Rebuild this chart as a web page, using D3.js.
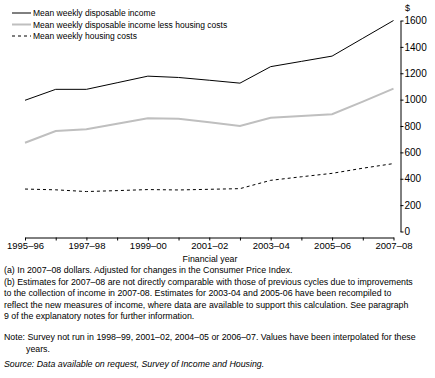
<!DOCTYPE html>
<html>
<head>
<meta charset="utf-8">
<script src="https://cdn.jsdelivr.net/npm/d3@7"></script>
<style>
  body { margin: 0; background: #fff; }
  svg { display: block; font-family: "Liberation Sans", Arial, sans-serif; }
</style>
</head>
<body>
<svg id="chart" width="435" height="378"></svg>
<script>
// financial years on the x axis
const years = ["1995–96", "1996–97", "1997–98", "1998–99", "1999–00", "2000–01", "2001–02",
  "2002–03", "2003–04", "2004–05", "2005–06", "2006–07", "2007–08"];
const labelledYears = ["1995–96", "1997–98", "1999–00", "2001–02", "2003–04", "2005–06", "2007–08"];
const yTicks = [0, 200, 400, 600, 800, 1000, 1200, 1400, 1600];

const disposable = [995, 1078, 1078, 1128, 1178, 1168, 1147, 1125, 1250, 1290, 1330, 1465, 1600];
const lessHousing = [673, 762, 775, 817, 858, 855, 828, 800, 863, 876, 889, 985, 1083];
const housing = [322, 316, 303, 310, 318, 315, 320, 325, 388, 415, 441, 480, 515];

const series = [
  { name: "Mean weekly disposable income", values: disposable, color: "#000", width: 1, dash: null },
  { name: "Mean weekly disposable income less housing costs", values: lessHousing, color: "#bfbfbf", width: 2, dash: null },
  { name: "Mean weekly housing costs", values: housing, color: "#000", width: 1, dash: "3,3" }
];

const notes = [
  "(a) In 2007–08 dollars. Adjusted for changes in the Consumer Price Index.",
  "(b) Estimates for 2007–08 are not directly comparable with those of previous cycles due to improvements",
  "to the collection of income in 2007-08. Estimates for 2003-04 and 2005-06 have been recompiled to",
  "reflect the new measures of income, where data are available to support this calculation. See paragraph",
  "9 of the explanatory notes for further information."
];

const svg = d3.select("#chart");

const x = d3.scalePoint().domain(years).range([25, 393.5]);
const y = d3.scaleLinear().domain([0, 1600]).range([231.5, 20.5]);

// lines
const line = d3.line()
  .x((d, i) => x(years[i]))
  .y(d => y(d));

series.forEach(s => {
  svg.append("path")
    .datum(s.values)
    .attr("fill", "none")
    .attr("stroke", s.color)
    .attr("stroke-width", s.width)
    .attr("stroke-dasharray", s.dash)
    .attr("d", line);
});

// x axis
const xAxis = svg.append("g")
  .attr("transform", "translate(0,237.5)")
  .call(d3.axisBottom(x)
    .tickSize(3)
    .tickSizeOuter(0)
    .tickPadding(2)
    .tickFormat(d => labelledYears.includes(d) ? d : ""));
xAxis.selectAll("text").style("font-size", "9.5px").attr("fill", "#000");
xAxis.selectAll("line, path").attr("stroke", "#000");

svg.append("text")
  .attr("x", 210)
  .attr("y", 262)
  .attr("text-anchor", "middle")
  .style("font-size", "8.8px")
  .text("Financial year");

// y axis on the right
const yAxis = svg.append("g")
  .attr("transform", "translate(400.5,0)")
  .call(d3.axisRight(y)
    .tickValues(yTicks)
    .tickSize(3)
    .tickSizeOuter(0)
    .tickPadding(1)
    .tickFormat(d3.format("d")));
yAxis.selectAll("text").style("font-size", "10px").attr("fill", "#000");
yAxis.selectAll("line, path").attr("stroke", "#000");

svg.append("text")
  .attr("x", 405)
  .attr("y", 11)
  .style("font-size", "9px")
  .text("$");

// legend
const legend = svg.append("g");
series.forEach((s, i) => {
  const ly = 13 + i * 11.5;
  legend.append("line")
    .attr("x1", 12).attr("x2", 31)
    .attr("y1", ly).attr("y2", ly)
    .attr("stroke", s.color)
    .attr("stroke-width", s.width)
    .attr("stroke-dasharray", s.dash);
  legend.append("text")
    .attr("x", 33)
    .attr("y", ly + 3)
    .style("font-size", "8.5px")
    .text(s.name);
});

// footnotes
const foot = svg.append("g").style("font-size", "8.8px");
notes.forEach((t, i) => {
  foot.append("text").attr("x", 4).attr("y", 273 + i * 11.5).text(t);
});
foot.append("text").attr("x", 4).attr("y", 340)
  .text("Note: Survey not run in 1998–99, 2001–02, 2004–05 or 2006–07. Values have been interpolated for these");
foot.append("text").attr("x", 26).attr("y", 351.5).text("years.");
foot.append("text").attr("x", 4).attr("y", 367)
  .style("font-style", "italic")
  .text("Source: Data available on request, Survey of Income and Housing.");
</script>
</body>
</html>
